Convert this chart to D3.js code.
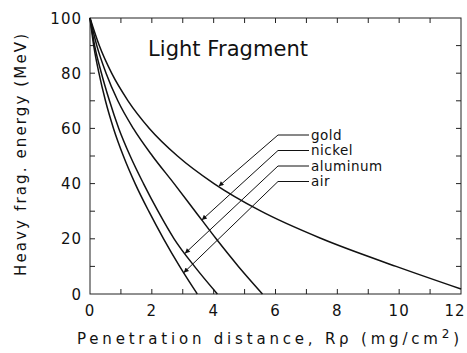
<!DOCTYPE html>
<meta charset="utf-8">
<div id="chart"></div>
<style>
body { margin: 0; background: #fff; }
text { font-family: 'DejaVu Sans', sans-serif; fill: #111; }
</style>
<script src="https://d3js.org/d3.v7.min.js"></script>
<script>
// energies (MeV) at which the three lighter curves were read
var energy = [100, 90, 80, 70, 60, 50, 40, 30, 20, 10, 0];
var rangeAir = [0, 0.12, 0.29, 0.5, 0.76, 1.08, 1.46, 1.9, 2.38, 2.9, 3.47];
var rangeAluminum = [0, 0.15, 0.37, 0.63, 0.93, 1.3, 1.73, 2.2, 2.72, 3.38, 4.12];
var rangeNickel = [0, 0.22, 0.52, 0.9, 1.4, 2.02, 2.72, 3.4, 4.08, 4.8, 5.58];
// gold runs off the right edge, so it has its own points
var rangeGold = [0, 0.3, 0.7, 1.23, 1.92, 2.83, 4.01, 5.53, 7.5, 9.9, 12];
var energyGold = [100, 90, 80, 70, 60, 50, 40, 30, 20, 10, 1.8];

var labelNames = ['gold', 'nickel', 'aluminum', 'air'];
var arrowEnergy = [39, 26.8, 14.7, 7.7];   // where each leader touches its curve

var xTicks = [0, 2, 4, 6, 8, 10, 12];
var yTicks = [0, 20, 40, 60, 80, 100];

var w = 467, h = 353;
var pL = 90, pR = 461, pT = 18, pB = 294;

var x = d3.scaleLinear().domain([0, 12]).range([pL, pR]);
var y = d3.scaleLinear().domain([0, 100]).range([pB, pT]);

var svg = d3.select('#chart').append('svg')
    .attr('width', w).attr('height', h);

svg.append('defs').append('marker')
    .attr('id', 'arr')
    .attr('viewBox', '0 0 10 10')
    .attr('refX', 10).attr('refY', 5)
    .attr('markerWidth', 7).attr('markerHeight', 5)
    .attr('markerUnits', 'userSpaceOnUse')
    .attr('orient', 'auto-start-reverse')
  .append('path')
    .attr('d', 'M0,0L10,5L0,10z')
    .attr('fill', '#111');

// frame
svg.append('rect')
    .attr('x', pL).attr('y', pT)
    .attr('width', pR - pL).attr('height', pB - pT)
    .attr('fill', 'none').attr('stroke', '#222').attr('stroke-width', 1);

// inward ticks on all four sides
var tl = 5;
var g = svg.append('g').attr('stroke', '#222').attr('stroke-width', 1);
d3.range(1, 12).forEach(function(v) {
    g.append('line').attr('x1', x(v)).attr('x2', x(v)).attr('y1', pB).attr('y2', pB - tl);
    g.append('line').attr('x1', x(v)).attr('x2', x(v)).attr('y1', pT).attr('y2', pT + tl);
});
d3.range(10, 100, 10).forEach(function(v) {
    g.append('line').attr('x1', pL).attr('x2', pL + tl).attr('y1', y(v)).attr('y2', y(v));
    g.append('line').attr('x1', pR).attr('x2', pR - tl).attr('y1', y(v)).attr('y2', y(v));
});

svg.selectAll('.xl').data(xTicks).enter().append('text')
    .attr('x', function(d) { return d === 12 ? x(d) - 6 : x(d); })
    .attr('y', 316)
    .attr('text-anchor', 'middle')
    .style('font-size', '15px').style('letter-spacing', '1px')
    .text(function(d) { return d; });

svg.selectAll('.yl').data(yTicks).enter().append('text')
    .attr('x', 82)
    .attr('y', function(d) { return y(d) + 5.5; })
    .attr('text-anchor', 'end')
    .style('font-size', '15px').style('letter-spacing', '1px')
    .text(function(d) { return d; });

// axis titles
var xt = svg.append('text')
    .attr('x', 268).attr('y', 344)
    .attr('text-anchor', 'middle')
    .attr('textLength', 382).attr('lengthAdjust', 'spacing')
    .style('font-size', '15px');
xt.append('tspan').text('Penetration distance, R\u03C1 (mg/cm');
xt.append('tspan').attr('dy', -6).style('font-size', '12px').text('2');
xt.append('tspan').attr('dy', 6).text(')');

svg.append('text')
    .attr('transform', 'translate(26,155) rotate(-90)')
    .attr('text-anchor', 'middle')
    .attr('textLength', 242).attr('lengthAdjust', 'spacing')
    .style('font-size', '15px')
    .text('Heavy frag. energy (MeV)');

svg.append('text')
    .attr('x', 148).attr('y', 56)
    .attr('textLength', 160).attr('lengthAdjust', 'spacing')
    .style('font-size', '21px')
    .text('Light Fragment');

// curves
var series = [
    { name: 'gold', r: rangeGold, e: energyGold },
    { name: 'nickel', r: rangeNickel, e: energy },
    { name: 'aluminum', r: rangeAluminum, e: energy },
    { name: 'air', r: rangeAir, e: energy }
];

var line = d3.line()
    .x(function(d) { return x(d[0]); })
    .y(function(d) { return y(d[1]); })
    .curve(d3.curveMonotoneX);

series.forEach(function(s) {
    svg.append('path')
        .datum(d3.zip(s.r, s.e))
        .attr('d', line)
        .attr('fill', 'none')
        .attr('stroke', '#111')
        .attr('stroke-width', 1.5);
});

// range at a given energy, linear between read points
function rangeAt(s, en) {
    for (var i = 1; i < s.e.length; i++) {
        if (s.e[i] <= en) {
            var t = (s.e[i - 1] - en) / (s.e[i - 1] - s.e[i]);
            return s.r[i - 1] + t * (s.r[i] - s.r[i - 1]);
        }
    }
    return s.r[s.r.length - 1];
}

// leaders and labels
var rowY = 135, rowStep = 15.5, cornerX = 278;
labelNames.forEach(function(name, i) {
    var s = series.filter(function(d) { return d.name === name; })[0];
    var tx = x(rangeAt(s, arrowEnergy[i])), ty = y(arrowEnergy[i]);
    var ry = rowY + i * rowStep;
    svg.append('path')
        .attr('d', 'M' + tx + ',' + ty + 'L' + cornerX + ',' + ry + 'L' + 309 + ',' + ry)
        .attr('fill', 'none')
        .attr('stroke', '#111')
        .attr('stroke-width', 1)
        .attr('marker-start', 'url(#arr)');
    svg.append('text')
        .attr('x', 311).attr('y', ry + 4.5)
        .style('font-size', '13.5px').style('letter-spacing', '0.5px')
        .text(name);
});
</script>
